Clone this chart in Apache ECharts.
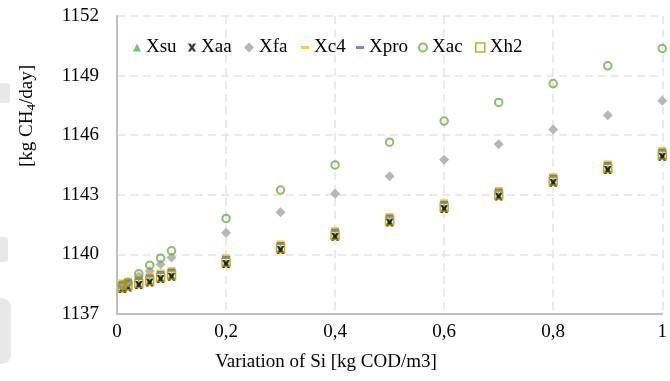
<!DOCTYPE html>
<html lang="en">
<head>
    <meta charset="UTF-8">
    <title>Variation of Si</title>
    <script src="https://cdn.jsdelivr.net/npm/echarts@6/dist/echarts.min.js"></script>
    <style>
        html, body { margin: 0; padding: 0; background: #fff; }
        #chart-container { width: 670px; height: 381px; }
    </style>
</head>
<body>
    <div id="chart-container"></div>
    <script>
        // x values (Si, kg COD/m3)
        var siValues = [0.01, 0.02, 0.04, 0.06, 0.08, 0.1, 0.2, 0.3, 0.4, 0.5, 0.6, 0.7, 0.8, 0.9, 1.0];

        // methane production, kg CH4/day
        var xsu  = [1138.33, 1138.41, 1138.53, 1138.66, 1138.83, 1138.95, 1139.59, 1140.29, 1140.96, 1141.67, 1142.36, 1142.98, 1143.68, 1144.32, 1144.99];
        var xaa  = [1138.26, 1138.34, 1138.46, 1138.59, 1138.76, 1138.88, 1139.52, 1140.22, 1140.89, 1141.60, 1142.29, 1142.91, 1143.61, 1144.25, 1144.92];
        var xfa  = [1138.40, 1138.60, 1138.90, 1139.17, 1139.51, 1139.85, 1141.09, 1142.12, 1143.05, 1143.93, 1144.77, 1145.54, 1146.29, 1147.01, 1147.73];
        var xc4  = [1138.67, 1138.75, 1138.87, 1139.00, 1139.17, 1139.29, 1139.93, 1140.63, 1141.30, 1142.01, 1142.70, 1143.32, 1144.02, 1144.66, 1145.33];
        var xpro = [1138.59, 1138.67, 1138.79, 1138.92, 1139.09, 1139.21, 1139.85, 1140.55, 1141.22, 1141.93, 1142.62, 1143.24, 1143.94, 1144.58, 1145.25];
        var xac  = [1138.45, 1138.59, 1139.02, 1139.46, 1139.81, 1140.18, 1141.81, 1143.24, 1144.50, 1145.65, 1146.71, 1147.65, 1148.60, 1149.49, 1150.37];
        var xh2  = [1138.34, 1138.42, 1138.54, 1138.67, 1138.84, 1138.96, 1139.60, 1140.30, 1140.97, 1141.68, 1142.37, 1142.99, 1143.69, 1144.33, 1145.00];

        var seriesNames = ['Xsu', 'Xaa', 'Xfa', 'Xc4', 'Xpro', 'Xac', 'Xh2'];
        var seriesData = [xsu, xaa, xfa, xc4, xpro, xac, xh2];

        var FONT = 'Liberation Serif, Times New Roman, serif';
        var crossPath = 'path://M0,0L2.6,0L4,2.3L5.4,0L8,0L5.5,4L8,8L5.4,8L4,5.7L2.6,8L0,8L2.5,4Z';

        var styles = [
            { symbol: 'triangle', size: 8, item: { color: '#5bb34a' } },
            { symbol: crossPath, size: 8, item: { color: '#000' } },
            { symbol: 'diamond', size: 10, item: { color: '#a5a5a5' } },
            { symbol: 'rect', size: [8, 3], item: { color: '#ffc000' } },
            { symbol: 'rect', size: [8, 3], item: { color: '#4472c4' } },
            { symbol: 'circle', size: 7.5, item: { color: 'rgba(0,0,0,0)', borderColor: '#70ad47', borderWidth: 2 } },
            { symbol: 'rect', size: 8, item: { color: 'rgba(0,0,0,0)', borderColor: '#bf9000', borderWidth: 1.5 } }
        ];

        // legend slots: icon left edge and icon size
        var legendLeft = [133, 188, 244, 301, 356, 418, 475];
        var legendSize = [[8, 8], [8, 8], [10, 10], [8, 3], [8, 3], [8, 8], [9, 9]];

        var chart = echarts.init(document.getElementById('chart-container'), null, { renderer: 'canvas' });

        var option = {
            animation: false,
            backgroundColor: '#fff',
            grid: { left: 117, right: 0, top: 16, bottom: 67, containLabel: false },
            xAxis: {
                type: 'value',
                min: 0,
                max: 1,
                interval: 0.2,
                axisLine: { show: true, onZero: false, lineStyle: { color: '#bfbfbf', width: 2 } },
                axisTick: { show: false },
                axisLabel: {
                    margin: 9,
                    color: '#000',
                    fontFamily: FONT,
                    fontSize: 19,
                    formatter: function (v) { return String(Math.round(v * 10) / 10).replace('.', ','); }
                },
                splitLine: { show: true, lineStyle: { color: '#e3e3e3', width: 1.5, type: [8, 5] } }
            },
            yAxis: {
                type: 'value',
                min: 1137,
                max: 1152,
                interval: 3,
                axisLine: { show: true, lineStyle: { color: '#bfbfbf', width: 2 } },
                axisTick: { show: false },
                axisLabel: {
                    margin: 18, color: '#000', fontFamily: FONT, fontSize: 19,
                    formatter: function (v) { return String(v); }
                },
                splitLine: { show: true, lineStyle: { color: '#e3e3e3', width: 1.5, type: [8, 5] } }
            },
            legend: seriesNames.map(function (name, i) {
                return {
                    data: [{ name: name, icon: styles[i].symbol, itemStyle: styles[i].item }],
                    left: legendLeft[i],
                    top: 38,
                    padding: 0,
                    itemWidth: legendSize[i][0],
                    itemHeight: legendSize[i][1],
                    itemGap: 0,
                    textStyle: { color: '#000', fontFamily: FONT, fontSize: 19, padding: [0, 0, 0, 0] }
                };
            }),
            graphic: [
                // faint gray shapes along the left edge of the picture
                { type: 'rect', shape: { x: 0, y: 83, width: 10, height: 20, r: [0, 3, 3, 0] }, style: { fill: '#e8e8e8' }, silent: true },
                { type: 'rect', shape: { x: 0, y: 237, width: 8, height: 25, r: [0, 3, 3, 0] }, style: { fill: '#e8e8e8' }, silent: true },
                { type: 'rect', shape: { x: 0, y: 298, width: 11, height: 66, r: [0, 9, 9, 0] }, style: { fill: '#e8e8e8' }, silent: true },
                {
                    type: 'text',
                    x: 27,
                    y: 116,
                    rotation: Math.PI / 2,
                    style: {
                        text: '[kg CH{s|4}/day]',
                        fill: '#000',
                        font: '19px ' + FONT,
                        align: 'center',
                        verticalAlign: 'middle',
                        rich: {
                            s: { fontSize: 13, fontFamily: FONT, fill: '#000', padding: [9, 0, 0, 0] }
                        }
                    }
                },
                {
                    type: 'text',
                    x: 326,
                    y: 362,
                    style: {
                        text: 'Variation of Si [kg COD/m3]',
                        fill: '#000',
                        font: '19px ' + FONT,
                        align: 'center',
                        verticalAlign: 'middle'
                    }
                }
            ],
            series: seriesNames.map(function (name, i) {
                return {
                    name: name,
                    type: 'scatter',
                    symbol: styles[i].symbol,
                    symbolSize: styles[i].size,
                    itemStyle: styles[i].item,
                    data: siValues.map(function (x, k) { return [x, seriesData[i][k]]; })
                };
            })
        };

        chart.setOption(option);
    </script>
</body>
</html>
